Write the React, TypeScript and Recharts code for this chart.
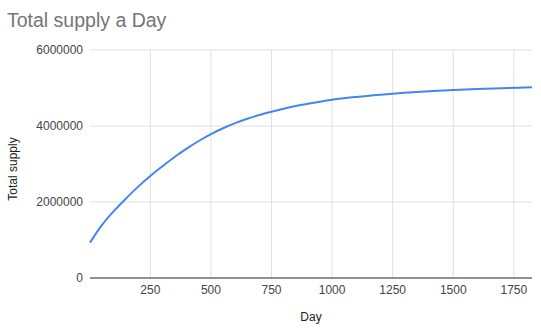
import { CartesianGrid, Line, LineChart, ReferenceLine, XAxis, YAxis } from 'recharts';

const DAYS = [
  1, 50, 100, 150, 200, 250, 300, 350, 400, 450, 500, 550, 600, 650, 700, 750, 800, 850, 900, 950,
  1000, 1100, 1200, 1300, 1400, 1500, 1600, 1700, 1825,
];

const SUPPLY = [
  930000, 1390000, 1765000, 2095000, 2405000, 2685000, 2940000, 3185000, 3405000, 3605000,
  3785000, 3940000, 4075000, 4190000, 4290000, 4375000, 4455000, 4525000, 4585000, 4640000,
  4690000, 4765000, 4825000, 4875000, 4915000, 4950000, 4975000, 4995000, 5020000,
];

const X_TICKS = [250, 500, 750, 1000, 1250, 1500, 1750];
const Y_TICKS = [0, 2000000, 4000000, 6000000];

const FONT = '"Liberation Sans", Arial, sans-serif';
const GRID = '#e0e0e0';

const rows = DAYS.map((day, i) => ({ day, supply: SUPPLY[i] }));

export default function App() {
  return (
    <div style={{ position: 'absolute', left: 0, top: 0, width: 541, height: 331, background: '#fff', fontFamily: FONT }}>
      <div
        style={{
          position: 'absolute',
          left: 7,
          top: 10,
          fontSize: 19.5,
          lineHeight: '20px',
          color: '#757575',
          whiteSpace: 'nowrap',
        }}
      >
        Total supply a Day
      </div>
      <LineChart width={541} height={331} data={rows} margin={{ top: 50, right: 9, bottom: 0, left: 0 }}>
        <CartesianGrid stroke={GRID} strokeWidth={1} vertical={false} />
        {/* vertical grid only at the day ticks, none on the plot edges */}
        {X_TICKS.map(t => (
          <ReferenceLine key={t} x={t} stroke={GRID} strokeWidth={1} />
        ))}
        <XAxis
          dataKey="day"
          type="number"
          domain={[1, 1825]}
          ticks={X_TICKS}
          height={53}
          tickLine={false}
          tickSize={5}
          tickMargin={2}
          axisLine={{ stroke: '#333333', strokeWidth: 1 }}
          tick={{ fill: '#444444', fontSize: 12, fontFamily: FONT }}
          label={(props: any) => {
            const vb = props.viewBox;
            return (
              <text x={vb.x + vb.width / 2} y={vb.y + 43} textAnchor="middle" fill="#222222" fontSize={12} fontFamily={FONT}>
                Day
              </text>
            );
          }}
        />
        <YAxis
          type="number"
          domain={[0, 6000000]}
          ticks={Y_TICKS}
          width={90}
          tickLine={false}
          axisLine={false}
          tickSize={5}
          tickMargin={2}
          tick={{ fill: '#444444', fontSize: 12, fontFamily: FONT }}
          label={() => (
            <text
              x={16.5}
              y={169}
              transform="rotate(-90 16.5 169)"
              textAnchor="middle"
              fill="#222222"
              fontSize={12}
              fontFamily={FONT}
            >
              Total supply
            </text>
          )}
        />
        <Line
          type="monotone"
          dataKey="supply"
          stroke="#4285F4"
          strokeWidth={2}
          dot={false}
          activeDot={false}
          isAnimationActive={false}
        />
      </LineChart>
    </div>
  );
}
